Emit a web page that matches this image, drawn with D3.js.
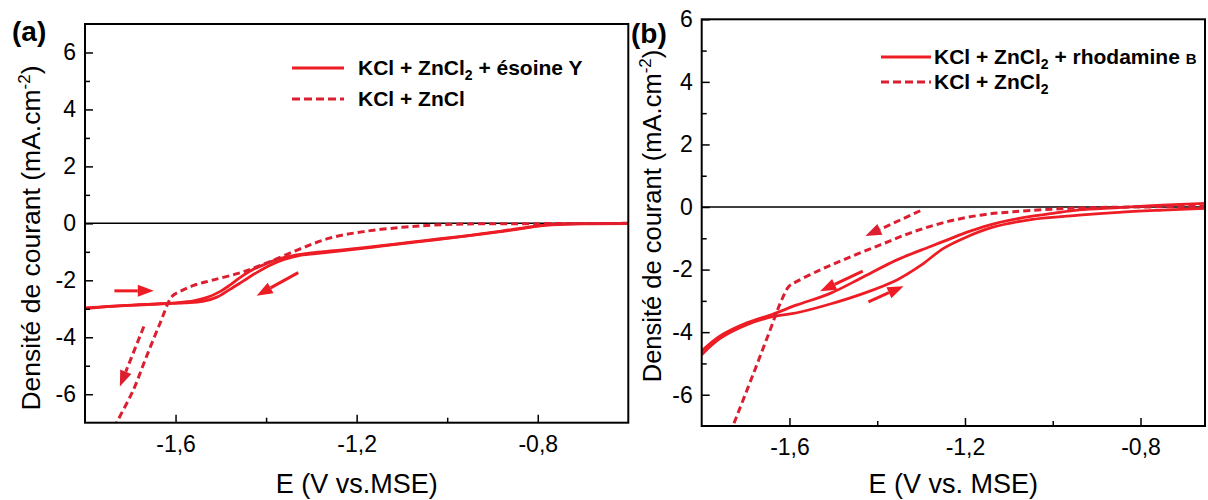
<!DOCTYPE html>
<html lang="fr">
<head>
<meta charset="UTF-8">
<title>Voltammétrie cyclique</title>
<script src="https://d3js.org/d3.v7.min.js"></script>
<style>
  body { margin: 0; background: #fff; }
  svg text { font-family: "Liberation Sans", Arial, sans-serif; fill: #000; }
</style>
</head>
<body>
<svg id="chart" width="1208" height="500"></svg>
<script>
// values: [E (V vs MSE), j (mA.cm-2)]
const aSolidFwd = [
  [-0.60, 0.00], [-0.70, -0.01], [-0.76, -0.03], [-0.82, -0.13], [-0.88, -0.27], [-0.95, -0.42],
  [-1.02, -0.55], [-1.08, -0.66], [-1.15, -0.79], [-1.20, -0.88], [-1.25, -0.96], [-1.30, -1.04],
  [-1.34, -1.13], [-1.37, -1.24], [-1.40, -1.42], [-1.43, -1.63], [-1.46, -1.93], [-1.48, -2.17],
  [-1.50, -2.38], [-1.53, -2.60], [-1.56, -2.72], [-1.60, -2.79], [-1.65, -2.84], [-1.70, -2.88],
  [-1.75, -2.92], [-1.80, -2.97]
];
const aSolidRev = [
  [-1.80, -2.99], [-1.72, -2.89], [-1.64, -2.83], [-1.58, -2.79], [-1.54, -2.74], [-1.51, -2.60],
  [-1.48, -2.32], [-1.45, -2.02], [-1.42, -1.72], [-1.39, -1.46], [-1.36, -1.27], [-1.33, -1.14],
  [-1.29, -1.06], [-1.22, -0.94], [-1.15, -0.81], [-1.08, -0.68], [-1.00, -0.53], [-0.92, -0.37],
  [-0.85, -0.22], [-0.78, -0.06], [-0.70, -0.02], [-0.60, -0.01]
];
const aDashed = [
  [-0.60, 0.00], [-0.80, -0.01], [-0.95, -0.02], [-1.03, -0.06], [-1.10, -0.14], [-1.185, -0.29],
  [-1.26, -0.52], [-1.33, -0.93], [-1.40, -1.40], [-1.46, -1.75], [-1.52, -2.00], [-1.56, -2.18],
  [-1.59, -2.39], [-1.608, -2.57], [-1.634, -3.50], [-1.664, -4.67], [-1.693, -5.84], [-1.73, -7.00],
  [-1.74, -7.35]
];
const aArrows = [
  { from: [-1.735, -2.37], to: [-1.648, -2.37], dashed: false },
  { from: [-1.329, -1.73], to: [-1.421, -2.54], dashed: false },
  { from: [-1.670, -3.62], to: [-1.723, -5.73], dashed: true }
];

const bSolidFwd = [
  [-0.65, 0.12], [-0.75, 0.06], [-0.85, -0.02], [-0.94, -0.09], [-1.00, -0.20], [-1.05, -0.30],
  [-1.13, -0.52], [-1.19, -0.78], [-1.24, -1.05], [-1.28, -1.27], [-1.355, -1.69], [-1.431, -2.23],
  [-1.507, -2.76], [-1.583, -3.13], [-1.637, -3.42], [-1.697, -3.70], [-1.758, -4.12], [-1.80, -4.60]
];
const bSolidRev = [
  [-1.80, -4.72], [-1.758, -4.20], [-1.697, -3.76], [-1.637, -3.50], [-1.583, -3.38], [-1.507, -3.10],
  [-1.431, -2.76], [-1.355, -2.33], [-1.30, -1.86], [-1.25, -1.33], [-1.20, -0.98], [-1.14, -0.66],
  [-1.05, -0.40], [-0.94, -0.26], [-0.85, -0.17], [-0.75, -0.10], [-0.65, -0.04]
];
const bDashed = [
  [-0.65, 0.02], [-0.80, 0.00], [-0.94, -0.03], [-1.089, -0.15], [-1.165, -0.26], [-1.241, -0.47],
  [-1.317, -0.79], [-1.393, -1.21], [-1.469, -1.64], [-1.53, -2.01], [-1.591, -2.44], [-1.602, -2.55],
  [-1.621, -3.08], [-1.644, -3.93], [-1.682, -5.32], [-1.728, -6.97], [-1.74, -7.40]
];
const bArrows = [
  { from: [-1.302, -0.12], to: [-1.427, -0.93], dashed: true },
  { from: [-1.433, -2.05], to: [-1.530, -2.69], dashed: false },
  { from: [-1.420, -3.03], to: [-1.340, -2.53], dashed: false }
];

const xMajor = [-1.6, -1.2, -0.8];
const xMinor = [-1.4, -1.0];
const yMajor = [-6, -4, -2, 0, 2, 4, 6];
const yMinor = [-5, -3, -1, 1, 3, 5];

const solidColor = "#ee1c24";
const dashColor = "#dc1f30";

const svg = d3.select("#chart");

function drawPanel(p) {
  const x = d3.scaleLinear().domain(p.xDomain).range([p.left, p.right]);
  const y = d3.scaleLinear().domain(p.yDomain).range([p.bottom, p.top]);
  const g = svg.append("g");

  g.append("clipPath").attr("id", "clip-" + p.id)
    .append("rect")
    .attr("x", p.left).attr("y", p.top)
    .attr("width", p.right - p.left).attr("height", p.bottom - p.top);

  // zero line
  g.append("line")
    .attr("x1", p.left).attr("x2", p.right)
    .attr("y1", y(0)).attr("y2", y(0))
    .attr("stroke", "#000").attr("stroke-width", 1.5);

  const line = d3.line().x(d => x(d[0])).y(d => y(d[1])).curve(d3.curveCatmullRom.alpha(0.5));
  const curves = g.append("g").attr("clip-path", `url(#clip-${p.id})`);

  p.solid.forEach(s => {
    curves.append("path").attr("d", line(s))
      .attr("fill", "none").attr("stroke", solidColor).attr("stroke-width", 2.8);
  });
  curves.append("path").attr("d", line(p.dashed))
    .attr("fill", "none").attr("stroke", dashColor).attr("stroke-width", 3)
    .attr("stroke-dasharray", "7,4");

  // arrows
  p.arrows.forEach(a => {
    const x0 = x(a.from[0]), y0 = y(a.from[1]);
    const x1 = x(a.to[0]), y1 = y(a.to[1]);
    const ang = Math.atan2(y1 - y0, x1 - x0);
    const hl = 16, hw = 6;
    const bx = x1 - hl * Math.cos(ang), by = y1 - hl * Math.sin(ang);
    const col = a.dashed ? dashColor : solidColor;
    g.append("line")
      .attr("x1", x0).attr("y1", y0).attr("x2", bx).attr("y2", by)
      .attr("stroke", col).attr("stroke-width", 3)
      .attr("stroke-dasharray", a.dashed ? "7,4" : null);
    g.append("path")
      .attr("d", `M${x1},${y1}L${bx - hw * Math.sin(ang)},${by + hw * Math.cos(ang)}` +
                 `L${bx + hw * Math.sin(ang)},${by - hw * Math.cos(ang)}Z`)
      .attr("fill", col);
  });

  // axes with inward ticks
  const fmtX = d => d.toFixed(1).replace(".", ",");
  const fmtY = d => String(d);

  g.append("g").attr("transform", `translate(0,${p.bottom})`)
    .call(d3.axisBottom(x).tickValues(xMajor).tickSize(-8).tickPadding(13).tickFormat(fmtX));
  g.append("g").attr("transform", `translate(0,${p.bottom})`)
    .call(d3.axisBottom(x).tickValues(xMinor).tickSize(-5).tickFormat(""));
  g.append("g").attr("transform", `translate(${p.left},0)`)
    .call(d3.axisLeft(y).tickValues(yMajor).tickSize(-8).tickPadding(9).tickFormat(fmtY));
  g.append("g").attr("transform", `translate(${p.left},0)`)
    .call(d3.axisLeft(y).tickValues(yMinor).tickSize(-5).tickFormat(""));

  g.selectAll(".domain").remove();
  g.selectAll(".tick line").attr("stroke", "#000").attr("stroke-width", 1.5);
  g.selectAll(".tick text").style("font-size", "23px").style("font-family", '"Liberation Sans", Arial, sans-serif');

  // frame
  g.append("rect")
    .attr("x", p.left).attr("y", p.top)
    .attr("width", p.right - p.left).attr("height", p.bottom - p.top)
    .attr("fill", "none").attr("stroke", "#000").attr("stroke-width", 2);

  // axis titles
  g.append("text")
    .attr("x", (p.left + p.right) / 2).attr("y", 493)
    .attr("text-anchor", "middle").style("font-size", "27px")
    .text(p.xTitle);

  const yt = g.append("text")
    .attr("transform", `translate(${p.yTitleX},${p.yTitleY}) rotate(-90)`)
    .attr("text-anchor", "middle").style("font-size", p.yTitleSize + "px");
  yt.append("tspan").text("Densité de courant (mA.cm");
  yt.append("tspan").attr("dy", -10).style("font-size", "17px").text("-2");
  yt.append("tspan").attr("dy", 10).text(")");

  // panel tag
  g.append("text").attr("x", p.tagX).attr("y", p.tagY)
    .style("font-size", "28px").style("font-weight", "bold").text(p.tag);

  // legend
  const lg = g.append("g");
  p.legend.forEach(item => {
    lg.append("line")
      .attr("x1", p.legX1).attr("x2", p.legX2).attr("y1", item.y).attr("y2", item.y)
      .attr("stroke", item.dashed ? dashColor : solidColor).attr("stroke-width", 3)
      .attr("stroke-dasharray", item.dashed ? "8,4" : null);
    const t = lg.append("text").attr("x", p.legText).attr("y", item.y + 7)
      .style("font-size", "21px").style("font-weight", "bold");
    item.parts.forEach(part => {
      const ts = t.append("tspan").text(part.t);
      if (part.sub) ts.style("font-size", "14px").attr("dy", 5);
      if (part.after) ts.attr("dy", -5);
      if (part.small) ts.style("font-size", "15px");
    });
  });
}

drawPanel({
  id: "a", left: 85, right: 628.3, top: 24, bottom: 422.7,
  xDomain: [-1.8, -0.6], yDomain: [-7, 7],
  solid: [aSolidFwd, aSolidRev], dashed: aDashed, arrows: aArrows,
  xTitle: "E (V vs.MSE)", yTitleX: 40, yTitleY: 238, yTitleSize: 26.5,
  tag: "(a)", tagX: 12, tagY: 41,
  legX1: 292, legX2: 344, legText: 358,
  legend: [
    { y: 68, dashed: false, parts: [{ t: "KCl + ZnCl" }, { t: "2", sub: true }, { t: " + ésoine Y", after: true }] },
    { y: 99, dashed: true, parts: [{ t: "KCl + ZnCl" }] }
  ]
});

drawPanel({
  id: "b", left: 701.7, right: 1205, top: 19.3, bottom: 426,
  xDomain: [-1.8, -0.653], yDomain: [-7, 6],
  solid: [bSolidFwd, bSolidRev], dashed: bDashed, arrows: bArrows,
  xTitle: "E (V vs. MSE)", yTitleX: 661, yTitleY: 216, yTitleSize: 25.5,
  tag: "(b)", tagX: 631, tagY: 43,
  legX1: 881, legX2: 931, legText: 934,
  legend: [
    { y: 57, dashed: false, parts: [{ t: "KCl + ZnCl" }, { t: "2", sub: true }, { t: " + rhodamine ", after: true }, { t: "B", small: true }] },
    { y: 82, dashed: true, parts: [{ t: "KCl + ZnCl" }, { t: "2", sub: true }] }
  ]
});
</script>
</body>
</html>
